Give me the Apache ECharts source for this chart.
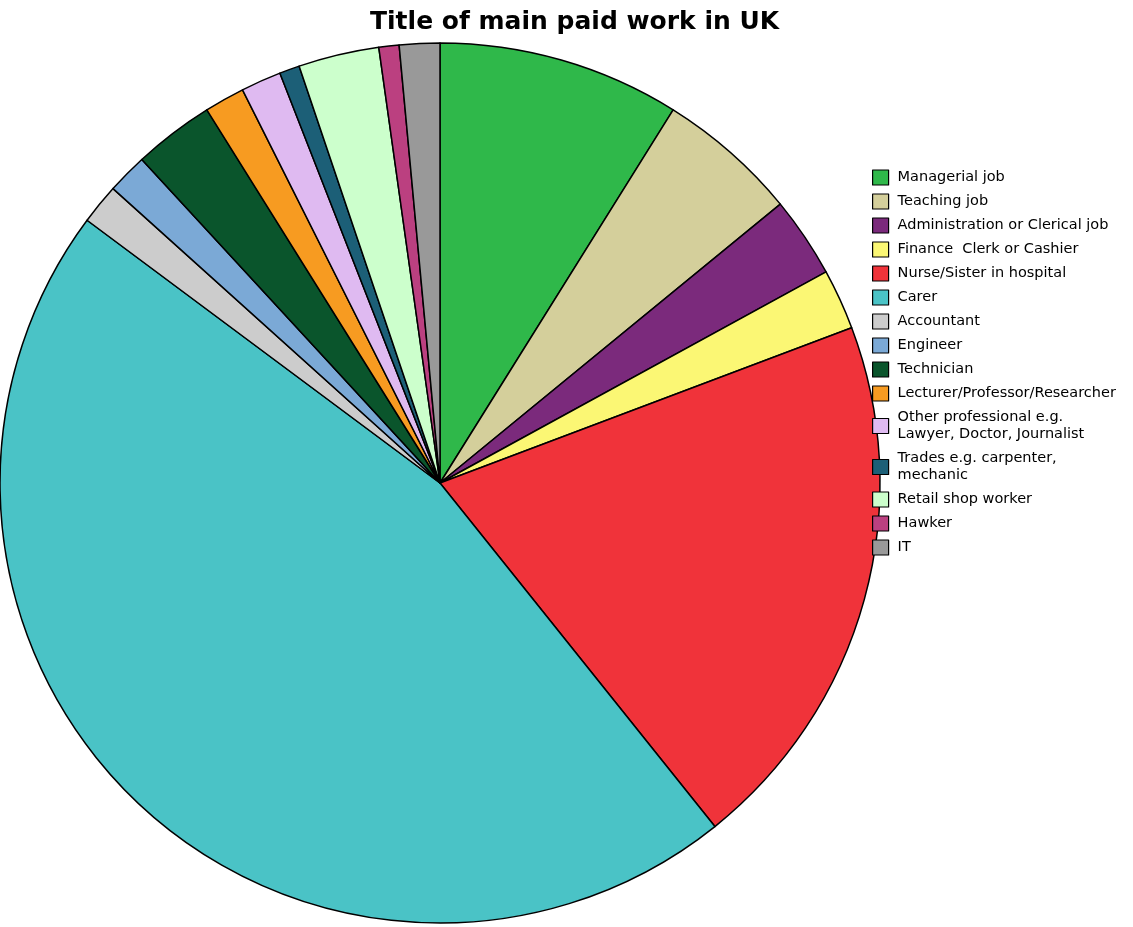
<!DOCTYPE html>
<html>
<head>
<meta charset="utf-8">
<script src="https://cdn.jsdelivr.net/npm/echarts@6/dist/echarts.min.js"></script>
<style>
  html, body { margin: 0; padding: 0; background: #fff; }
  #chart { width: 1133px; height: 927px; }
</style>
</head>
<body>
<div id="chart"></div>
<script>
// job titles, counts
var jobs = [
    'Managerial job',
    'Teaching job',
    'Administration or Clerical job',
    'Finance  Clerk or Cashier',
    'Nurse/Sister in hospital',
    'Carer',
    'Accountant',
    'Engineer',
    'Technician',
    'Lecturer/Professor/Researcher',
    'Other professional e.g.\nLawyer, Doctor, Journalist',
    'Trades e.g. carpenter,\nmechanic',
    'Retail shop worker',
    'Hawker',
    'IT'
];
var counts = [12, 7, 4, 3, 27, 62, 2, 2, 4, 2, 2, 1, 4, 1, 2];
var colors = ['#2fb84a', '#d4cf9b', '#7b2a7c', '#fbf774', '#f0333a', '#4ac3c6', '#cccccc',
    '#7ba9d6', '#0a552c', '#f79b21', '#dfbaf1', '#1c5f77', '#ccffcc', '#bb4080', '#999999'];

var myChart = echarts.init(document.getElementById('chart'));
var pieData = jobs.map(function (n, i) {
    return { name: n, value: counts[i], itemStyle: { color: colors[i] } };
});

myChart.setOption({
    animation: false,
    title: {
        text: 'Title of main paid work in UK',
        left: 370,
        top: 10,
        padding: 0,
        textStyle: { fontFamily: 'DejaVu Sans', fontSize: 25, fontWeight: 'bold', color: '#000' }
    },
    legend: {
        orient: 'vertical',
        left: 872,
        top: 169,
        padding: 0,
        itemWidth: 16,
        itemHeight: 15,
        itemGap: 7,
        icon: 'rect',
        itemStyle: { borderColor: '#000', borderWidth: 1.2 },
        textStyle: { fontFamily: 'DejaVu Sans', fontSize: 14.5, color: '#000', lineHeight: 17, padding: [0, 0, 0, 4] },
        data: jobs
    },
    series: [{
        type: 'pie',
        center: [440, 483],
        radius: 440,
        startAngle: 90,
        clockwise: true,
        label: { show: false },
        labelLine: { show: false },
        emphasis: { disabled: true },
        itemStyle: { borderColor: '#000', borderWidth: 1.5 },
        data: pieData
    }]
});
</script>
</body>
</html>
